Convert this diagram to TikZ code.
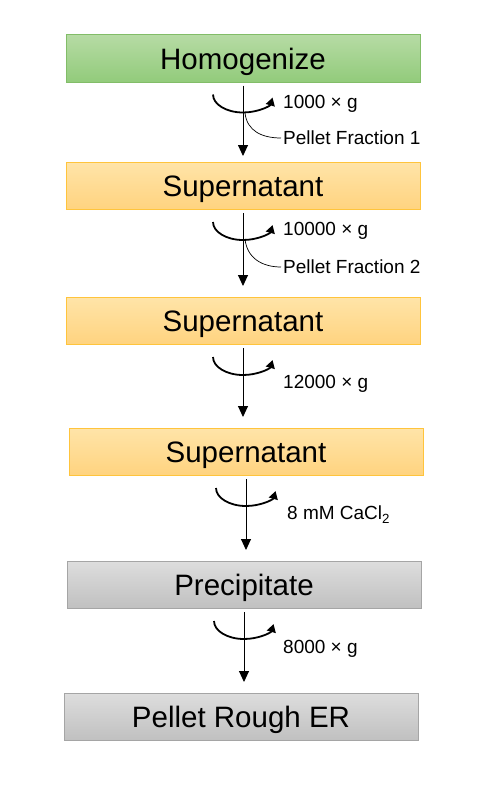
\documentclass[tikz,border=0pt]{standalone}
\usepackage{fontspec}
\setmainfont{Liberation Sans}
\usetikzlibrary{arrows.meta}

\begin{document}
\begin{tikzpicture}[x=1pt,y=-1pt,
  stage/.style={rectangle,draw,line width=1pt,minimum width=354pt,minimum height=47pt,inner sep=0pt,
    font=\fontsize{29.5}{30}\selectfont,text height=21.2pt,text depth=0pt},
  greenstage/.style={stage,draw={rgb,255:red,130;green,189;blue,104},
    top color={rgb,255:red,182;green,219;blue,164},bottom color={rgb,255:red,146;green,203;blue,123}},
  orangestage/.style={stage,draw={rgb,255:red,255;green,196;blue,60},
    top color={rgb,255:red,255;green,228;blue,168},bottom color={rgb,255:red,255;green,211;blue,127}},
  graystage/.style={stage,draw={rgb,255:red,165;green,165;blue,165},
    top color={rgb,255:red,221;green,221;blue,221},bottom color={rgb,255:red,192;green,192;blue,192}},
  flow/.style={line width=0.9pt,-{Triangle[width=10pt,length=11pt]},shorten <=3pt,shorten >=11pt},
  spin/.style={line width=1.8pt,-{Triangle[width=9pt,length=8pt]}},
  note/.style={anchor=west,inner sep=0pt,font=\fontsize{19}{20}\selectfont,text height=13.7pt,text depth=0pt},
  pellet/.style={line width=0.7pt}]
\useasboundingbox[fill=white] (0,0) rectangle (481,792);

\node [greenstage] (hom) at (243,58.5) {Homogenize};
\node [orangestage] (sup1) at (243,186) {Supernatant};
\node [orangestage] (sup2) at (243,321) {Supernatant};
\node [orangestage] (sup3) at (246,452) {Supernatant};
\node [graystage] (prec) at (244,585) {Precipitate};
\node [graystage] (rough) at (241,717) {Pellet Rough ER};

% spin steps
\draw [flow,shorten >=6pt] (hom.south) -- (hom.south |- sup1.north);
\foreach \a/\b in {sup1/sup2,sup2/sup3,sup3/prec,prec/rough}
  \draw [flow] (\a.south) -- (\a.south |- \b.north);
\foreach \a in {hom,sup1,sup2,sup3,prec}
  \draw [spin] ([yshift=-12pt]\a.south) ++(180:30pt and 18pt) arc[start angle=180,end angle=350,x radius=30pt,y radius=18pt];

\node [note] (g1) at (283,102) {1000 × g};
\node [note] (pf1) at (283,138) {Pellet Fraction 1};
\node [note] (g2) at (283,229) {10000 × g};
\node [note] (pf2) at (283,267) {Pellet Fraction 2};
\node [note] (g3) at (283,382) {12000 × g};
\node [note] (g4) at (287,513) {8 mM CaCl\textsubscript{2}};
\node [note] (g5) at (283,647) {8000 × g};

% pellets
\coordinate (p1) at (245,113);
\coordinate (p2) at (245,239);
\draw [pellet] (p1) .. controls (247,131) and (262,138) .. ([xshift=-2pt]pf1.west);
\draw [pellet] (p2) .. controls (247,258) and (262,267) .. ([xshift=-2pt]pf2.west);
\end{tikzpicture}
\end{document}
